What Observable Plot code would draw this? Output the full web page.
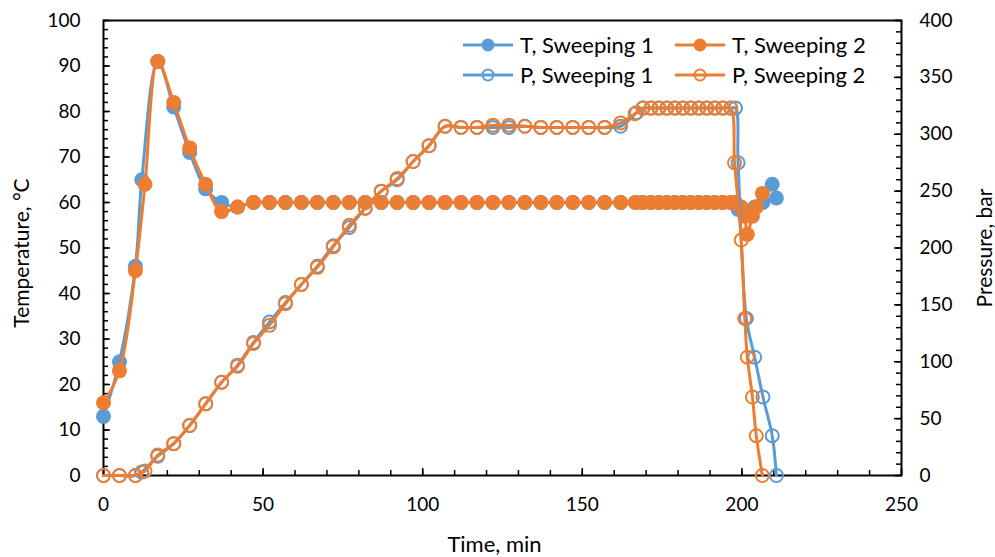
<!DOCTYPE html>
<html><head><meta charset="utf-8">
<script src="https://cdn.jsdelivr.net/npm/d3@7"></script>
<script src="https://cdn.jsdelivr.net/npm/@observablehq/plot@0.6"></script>
<style>
body{margin:0;background:#fff;}
#wrap{position:relative;width:995px;height:557px;font-family:Lato, "Open Sans", sans-serif;}
#legend{position:absolute;left:0;top:0;pointer-events:none;}
</style></head><body><div id="wrap"></div>
<script>
// ---- data ----
const seriesNames = ["T, Sweeping 1", "T, Sweeping 2", "P, Sweeping 1", "P, Sweeping 2"];
const time1 = [0,5,10,12,17,22,27,32,37,42,47,52,57,62,67,72,77,82,87,92,97,102,107,112,117,122,127,132,137,142,147,152,157,162,167,169,171.5,174,176.5,179,181.5,184,186.5,189,191.5,194,196.5,198,198.8,201.4,204,206.6,209.5,210.8];
const temp1 = [13,25,46,65,91,81,71,63,60,59,60,60,60,60,60,60,60,60,60,60,60,60,60,60,60,60,60,60,60,60,60,60,60,60,60,60,60,60,60,60,60,60,60,60,60,60,60,60,58.5,58,59,60,64,61];
const pres1 = [0,0,0,3,17,28,44,63,82,97,117,135,152,168,184,202,218,235,250,260,276,290,307,306,306,306,306,307,306,306,306,306,306,307,319,323,323,323,323,323,323,323,323,323,323,323,323,323,275,138,104,69,35,0];
const time2 = [0,5,10,13,17,22,27,32,37,42,47,52,57,62,67,72,77,82,87,92,97,102,107,112,117,122,127,132,137,142,147,152,157,162,166.5,169,171.5,174,176.5,179,181.5,184,186.5,189,191.5,194,196.5,197.7,199.8,200.9,201.7,203.3,204.5,206.4];
const temp2 = [16,23,45,64,91,82,72,64,58,59,60,60,60,60,60,60,60,60,60,60,60,60,60,60,60,60,60,60,60,60,60,60,60,60,60,60,60,60,60,60,60,60,60,60,60,60,60,60,59,57,53,57,59,62];
const pres2 = [0,0,0,4,18,28,44,63,82,96,116,132,151,168,183,201,220,235,250,261,276,290,307,306,306,308,308,307,306,306,306,306,306,310,318,323,323,323,323,323,323,323,323,323,323,323,323,275,207,138,104,69,35,0];
const xTicks = [0,50,100,150,200,250];
const yTicks = [0,10,20,30,40,50,60,70,80,90,100];
const pTicks = [0,50,100,150,200,250,300,350,400];

const BLUE = "#5B9BD5", ORANGE = "#ED7D31";
const W = 995, H = 557, mL = 103, mR = 94, mT = 20, mB = 82;
const pw = W - mL - mR, ph = H - mT - mB;
const PMAX = 400, TMAX = 100, k = TMAX / PMAX; // pressure mapped onto temperature scale

const s1 = time1.map((t, i) => ({t, T: temp1[i], P: pres1[i]}));
const s2 = time2.map((t, i) => ({t, T: temp2[i], P: pres2[i]}));

const minorY = d3.range(0, 101, 2);
const minorP = d3.range(0, 401, 10).map(p => p * k);
const minorX = d3.range(0, 251, 10);
const font = "Lato, 'Open Sans', sans-serif";
const fs = 19;

const chart = Plot.plot({
  width: W, height: H,
  marginLeft: mL, marginRight: mR, marginTop: mT, marginBottom: mB,
  style: {fontFamily: font, fontSize: fs + "px", color: "#000", background: "#fff"},
  x: {domain: [0, 250]},
  y: {domain: [0, 100]},
  marks: [
    // tick marks (inward)
    Plot.tickY(minorY, {y: d => d, insetRight: pw - 5, stroke: "#000", strokeWidth: 1.5}),
    Plot.tickY(yTicks, {y: d => d, insetRight: pw - 7, stroke: "#000", strokeWidth: 1.5}),
    Plot.tickY(minorP, {y: d => d, insetLeft: pw - 5, stroke: "#000", strokeWidth: 1.5}),
    Plot.tickY(pTicks.map(p => p * k), {y: d => d, insetLeft: pw - 7, stroke: "#000", strokeWidth: 1.5}),
    Plot.tickX(minorX, {x: d => d, insetTop: ph - 5, stroke: "#000", strokeWidth: 1.5}),
    Plot.tickX(xTicks, {x: d => d, insetTop: ph - 7, stroke: "#000", strokeWidth: 1.5}),
    Plot.frame({stroke: "#000", strokeWidth: 2}),
    // axes labels
    Plot.axisX({ticks: xTicks, tickSize: 0, tickPadding: 22, label: null, fontSize: fs}),
    Plot.axisY({ticks: yTicks, tickSize: 0, tickPadding: 23, label: null, fontSize: fs, anchor: "left"}),
    Plot.axisY({ticks: pTicks.map(p => p * k), tickFormat: d => d3.format("d")(Math.round(d / k)), tickSize: 0, tickPadding: 18, label: null, fontSize: fs, anchor: "right"}),
    Plot.text(["Temperature, °C"], {frameAnchor: "left", textAnchor: "middle", rotate: -90, dx: -81, dy: 5, fontSize: 21}),
    Plot.text(["Pressure, bar"], {frameAnchor: "right", textAnchor: "middle", rotate: -90, dx: 84, fontSize: 21}),
    Plot.text(["Time, min"], {frameAnchor: "bottom", dx: -8, dy: 76, fontSize: 22}),
    // temperature series
    Plot.line(s1, {x: "t", y: "T", stroke: BLUE, strokeWidth: 3, curve: "catmull-rom"}),
    Plot.dot(s1, {x: "t", y: "T", r: 7.5, fill: BLUE, stroke: BLUE, strokeWidth: 0}),
    Plot.line(s2, {x: "t", y: "T", stroke: ORANGE, strokeWidth: 3, curve: "catmull-rom"}),
    Plot.dot(s2, {x: "t", y: "T", r: 7.5, fill: ORANGE, stroke: ORANGE, strokeWidth: 0}),
    // pressure series (secondary axis)
    Plot.line(s1, {x: "t", y: d => d.P * k, stroke: BLUE, strokeWidth: 3, curve: "catmull-rom"}),
    Plot.dot(s1, {x: "t", y: d => d.P * k, r: 6.5, fill: "none", stroke: BLUE, strokeWidth: 2}),
    Plot.line(s2, {x: "t", y: d => d.P * k, stroke: ORANGE, strokeWidth: 3, curve: "catmull-rom"}),
    Plot.dot(s2, {x: "t", y: d => d.P * k, r: 6.5, fill: "none", stroke: ORANGE, strokeWidth: 2})
  ]
});
const wrap = document.getElementById("wrap");
wrap.appendChild(chart);

// legend overlay (inside the plot area, top right)
const ns = "http://www.w3.org/2000/svg";
const leg = document.createElementNS(ns, "svg");
leg.setAttribute("id", "legend");
leg.setAttribute("width", W); leg.setAttribute("height", H);
const items = [
  {name: seriesNames[0], color: BLUE, filled: true, x: 463, y: 45},
  {name: seriesNames[1], color: ORANGE, filled: true, x: 675, y: 45},
  {name: seriesNames[2], color: BLUE, filled: false, x: 463, y: 75},
  {name: seriesNames[3], color: ORANGE, filled: false, x: 675, y: 75}
];
for (const it of items) {
  const g = document.createElementNS(ns, "g");
  const l = document.createElementNS(ns, "line");
  l.setAttribute("x1", it.x); l.setAttribute("x2", it.x + 50);
  l.setAttribute("y1", it.y); l.setAttribute("y2", it.y);
  l.setAttribute("stroke", it.color); l.setAttribute("stroke-width", 3);
  g.appendChild(l);
  const c = document.createElementNS(ns, "circle");
  c.setAttribute("cx", it.x + 25); c.setAttribute("cy", it.y);
  c.setAttribute("r", it.filled ? 6.5 : 5.5);
  c.setAttribute("fill", it.filled ? it.color : "none");
  c.setAttribute("stroke", it.color); c.setAttribute("stroke-width", it.filled ? 0 : 2);
  g.appendChild(c);
  const t = document.createElementNS(ns, "text");
  t.setAttribute("x", it.x + 57); t.setAttribute("y", it.y);
  t.setAttribute("dy", "0.35em");
  t.setAttribute("font-family", font); t.setAttribute("font-size", 22);
  t.textContent = it.name;
  g.appendChild(t);
  leg.appendChild(g);
}
wrap.appendChild(leg);
</script>
</body></html>
